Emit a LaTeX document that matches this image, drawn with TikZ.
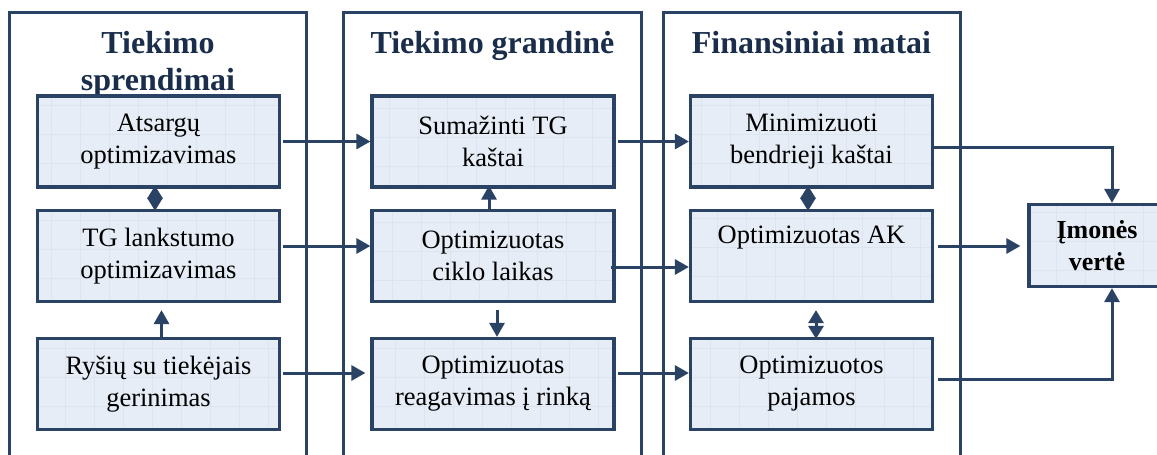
\documentclass[tikz,border=0pt]{standalone}
\usepackage{fontspec}
\setmainfont{Liberation Serif}
\usetikzlibrary{arrows.meta}
\definecolor{navy}{HTML}{2A4365}
\definecolor{titleblue}{HTML}{1A2E4C}
\definecolor{boxfill}{HTML}{E6EDF6}
\definecolor{boxgrid}{HTML}{DCE4EF}
\tikzset{
  panel/.style={draw=navy, line width=3pt},
  heading/.style={font=\fontsize{32}{37}\selectfont\bfseries, text=titleblue, inner sep=0pt, anchor=base},
  stage/.style={draw=navy, line width=3.2pt, fill=boxfill, minimum width=242pt, minimum height=91pt,
    inner sep=0pt, align=center, font=\fontsize{26.5}{32}\selectfont,
    path picture={\draw[boxgrid, line width=0.5pt, step=29pt]
      (path picture bounding box.south west) grid (path picture bounding box.north east);}},
  link/.style={draw=navy, line width=3pt, -{Triangle[length=14pt,width=15pt]}},
  twoway/.style={draw=navy, line width=3pt, {Triangle[length=13pt,width=15pt]}-{Triangle[length=13pt,width=15pt]}},
}
\begin{document}
\begin{tikzpicture}[x=1pt,y=-1pt]
\useasboundingbox (0,0) rectangle (1157,455);
\clip (0,0) rectangle (1157,455);

% column frames, open at the bottom
\draw[panel] (9.5,470) |- (306.5,12) -- (306.5,470);
\draw[panel] (343.5,470) |- (641,12) -- (641,470);
\draw[panel] (663,470) |- (960,12) -- (960,470);

% column headings
\node[heading] (h1a) at (158,53) {Tiekimo};
\node[heading] (h1b) at (158,90) {sprendimai};
\node[heading] (h2) at (492.5,53) {Tiekimo grandinė};
\node[heading] (h3) at (811.5,53) {Finansiniai matai};

% boxes
\node[stage] (a1) at (158.5,141.5) {Atsargų\\optimizavimas};
\node[stage] (a2) at (158.5,256) {TG lankstumo\\optimizavimas};
\node[stage] (a3) at (158.5,384) {Ryšių su tiekėjais\\gerinimas};
\node[stage] (b1) at (493,141.5) {Sumažinti TG\\kaštai};
\node[stage] (b2) at (493,256) {Optimizuotas\\ciklo laikas};
\node[stage] (b3) at (493,384) {Optimizuotas\\reagavimas į rinką};
\node[stage] (c1) at (811.5,141.5) {Minimizuoti\\bendrieji kaštai};
\node[stage] (c2) at (811.5,256) {Optimizuotas AK\\\strut};
\node[stage] (c3) at (811.5,384) {Optimizuotos\\pajamos};
\node[stage, font=\fontsize{26}{32}\selectfont\bfseries, minimum width=136pt, minimum height=82pt] (v) at (1097,245.5) {Įmonės\\vertė};

% horizontal links
\draw[link, shorten <=2pt] (a1.east) -- (b1.west);
\draw[link, shorten <=2pt] ([yshift=10pt]a2.east) -- ([yshift=10pt]b2.west);
\draw[link, shorten <=2pt, shorten >=5pt] ([yshift=11pt]a3.east) -- ([yshift=11pt]b3.west);
\draw[link, shorten <=2pt] (b1.east) -- (c1.west);
\draw[link] ([xshift=-5pt,yshift=-11pt]b2.east) -- ([yshift=-11pt]c2.west);
\draw[link, shorten <=2pt] ([yshift=11pt]b3.east) -- ([yshift=11pt]c3.west);
\draw[link] ([xshift=-2pt,yshift=-5.5pt]c1.east) -| ([xshift=15pt]v.north);
\draw[link, shorten <=4pt, shorten >=7pt] ([yshift=10pt]c2.east) -- ([yshift=10pt]c2.east -| v.west);
\draw[link, shorten <=4pt] ([yshift=5pt]c3.east) -| ([xshift=15pt]v.south);

% vertical links
\draw[twoway, shorten <=-3pt, shorten >=-2pt] ([xshift=-3.5pt]a1.south) -- ([xshift=-3.5pt]a2.north);
\draw[link, shorten >=7pt] ([xshift=3pt]a3.north) -- ([xshift=3pt]a2.south);
\draw[link, shorten >=-3pt] ([xshift=-4pt]b2.north) -- ([xshift=-4pt]b1.south);
\draw[link, shorten <=7pt] ([xshift=4pt]b2.south) -- ([xshift=4pt]b3.north);
\draw[twoway, shorten <=-3pt, shorten >=-2pt] ([xshift=-3.5pt]c1.south) -- ([xshift=-3.5pt]c2.north);
\draw[twoway, shorten <=7pt, shorten >=-2pt] ([xshift=4.5pt]c2.south) -- ([xshift=4.5pt]c3.north);
\end{tikzpicture}
\end{document}
